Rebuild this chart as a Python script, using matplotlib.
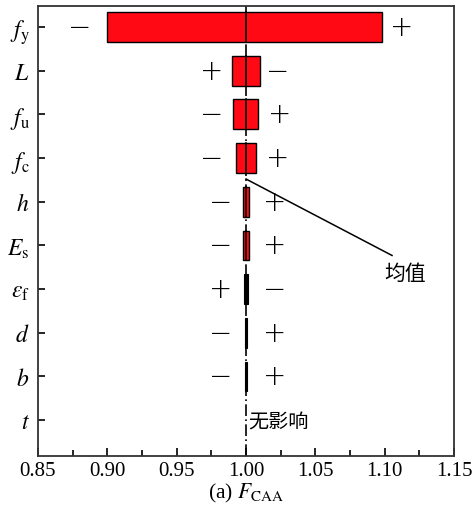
import numpy as np
import matplotlib.pyplot as plt
from matplotlib.ticker import MultipleLocator

plt.rcParams["font.family"] = ["Liberation Serif", "Noto Sans CJK SC"]
plt.rcParams["mathtext.fontset"] = "stix"

# 参数（自上而下）
params = [r"$f_{\mathrm{y}}$", r"$L$", r"$f_{\mathrm{u}}$", r"$f_{\mathrm{c}}$", r"$h$",
          r"$E_{\mathrm{s}}$", r"$\varepsilon_{\mathrm{f}}$", r"$d$", r"$b$", r"$t$"]
# 参数取下限/上限时的 F_CAA
low_vals = [0.900, 0.990, 0.9905, 0.9925, 0.9975, 0.9975, 0.9988, 0.9995, 0.9995, 1.0]
high_vals = [1.098, 1.010, 1.0090, 1.0072, 1.0022, 1.0022, 1.0012, 1.0005, 1.0005, 1.0]
# 左右两侧的正负号
left_signs = ["−", "+", "−", "−", "−", "−", "+", "−", "−", ""]
right_signs = ["+", "−", "+", "+", "+", "+", "−", "+", "+", ""]
left_pos = [0.880, 0.9755, 0.975, 0.975, 0.982, 0.982, 0.982, 0.982, 0.982, 0]
right_pos = [1.112, 1.023, 1.0245, 1.0225, 1.021, 1.021, 1.021, 1.021, 1.021, 0]
mean_val = 1.0

n = len(params)
ypos = np.arange(n)[::-1]

fig = plt.figure(figsize=(4.77, 5.06), dpi=100)
ax = fig.add_axes([38 / 477, 1 - 457 / 506, 416 / 477, 450 / 506])

for i in range(n):
    lo, hi = low_vals[i], high_vals[i]
    if hi - lo <= 0:
        continue
    if hi - lo < 0.003:
        ax.barh(ypos[i], hi - lo, left=lo, height=0.68, color="black",
                edgecolor="black", linewidth=0.8, zorder=3)
    else:
        ax.barh(ypos[i], hi - lo, left=lo, height=0.68, color="#ff0a14",
                edgecolor="black", linewidth=1.0, zorder=3)
        ax.plot([mean_val, mean_val], [ypos[i] - 0.34, ypos[i] + 0.34],
                color="black", lw=1.2, zorder=4)
    ax.text(left_pos[i], ypos[i], left_signs[i], ha="center", va="center",
            fontsize=20, family="DejaVu Sans", fontweight="light")
    ax.text(right_pos[i], ypos[i], right_signs[i], ha="center", va="center",
            fontsize=20, family="DejaVu Sans", fontweight="light")

ax.axvline(mean_val, color="black", lw=1.2, ls=(0, (7, 2, 1, 2)), zorder=2)

# 均值标注
ax.plot([mean_val, 1.1053], [5.52, 3.77], color="black", lw=1.1)
ax.text(1.1147, 3.38, "均值", ha="center", va="center", fontsize=15,
        family=["Noto Sans CJK SC"])
ax.text(1.0015, -0.05, "无影响", ha="left", va="center", fontsize=14.5,
        family=["Noto Sans CJK SC"])

ax.set_xlim(0.85, 1.15)
ax.set_ylim(-0.82, 9.48)
ax.set_yticks(ypos)
ax.set_yticklabels(params, fontsize=17)
ax.xaxis.set_minor_locator(MultipleLocator(0.025))
ax.set_xticks(np.arange(0.85, 1.151, 0.05))
ax.set_xticklabels([f"{v:.2f}" for v in np.arange(0.85, 1.151, 0.05)], fontsize=15)
ax.tick_params(axis="both", which="both", direction="in")
ax.tick_params(axis="x", which="major", length=6, width=1.2)
ax.tick_params(axis="x", which="minor", length=4, width=1.2)
ax.tick_params(axis="y", length=5, width=1.2, pad=6)
ax.set_xlabel(r"(a) $F_{\mathrm{CAA}}$", fontsize=15.5, labelpad=1)
for s in ax.spines.values():
    s.set_linewidth(1.3)
    s.set_color("#333333")

fig.savefig("out.png", dpi=100)
